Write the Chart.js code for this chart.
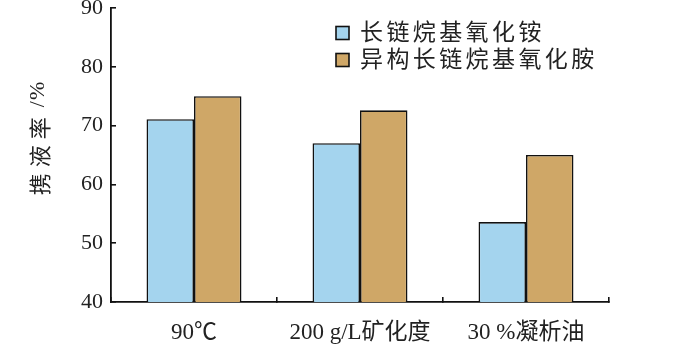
<!DOCTYPE html>
<html>
<head>
<meta charset="utf-8">
<script src="https://cdn.jsdelivr.net/npm/chart.js@4"></script>
<style>
html,body{margin:0;padding:0;background:#fff;}
#wrap{width:700px;height:358px;position:relative;}
</style>
</head>
<body>
<div id="wrap"><canvas id="c" width="700" height="358"></canvas></div>
<script>
const categories = ["90℃", "200 g/L矿化度", "30 %凝析油"];
const seriesNames = ["长链烷基氧化铵", "异构长链烷基氧化胺"];
const seriesA = [71.1, 67.0, 53.6];
const seriesB = [75.0, 72.6, 65.0];
const yTicks = [40, 50, 60, 70, 80, 90];
const yTitleMain = "携液率";
const yTitleUnit = "/%";
const colors = ["#A4D4EE", "#CFA767"];

const serif = "'Liberation Serif', 'Noto Sans CJK SC', serif";
const cjk = "'Noto Sans CJK SC', sans-serif";

const overlay = {
  id: 'overlay',
  afterDraw(chart) {
    const ctx = chart.ctx;
    ctx.save();
    // y title (rotated)
    ctx.fillStyle = '#222';
    ctx.translate(40, 138);
    ctx.rotate(-Math.PI / 2);
    ctx.textBaseline = 'middle';
    ctx.textAlign = 'left';
    ctx.font = "22px " + cjk;
    ctx.letterSpacing = "6px";
    const w1 = ctx.measureText(yTitleMain).width;
    ctx.font = "22px " + serif;
    ctx.letterSpacing = "1px";
    const w2 = ctx.measureText(yTitleUnit).width;
    const gap = 4;
    const total = w1 + gap + w2;
    ctx.font = "22px " + cjk;
    ctx.letterSpacing = "6px";
    ctx.fillText(yTitleMain, -total / 2, 0);
    ctx.font = "22px " + serif;
    ctx.letterSpacing = "1px";
    ctx.fillText(yTitleUnit, -total / 2 + w1 + gap, -2);
    ctx.restore();

    // legend
    ctx.save();
    const rows = [33, 60];
    seriesNames.forEach((name, i) => {
      ctx.fillStyle = colors[i];
      ctx.strokeStyle = '#111';
      ctx.lineWidth = 1.6;
      ctx.fillRect(336, rows[i] - 6.5, 13, 13);
      ctx.strokeRect(336, rows[i] - 6.5, 13, 13);
      ctx.fillStyle = '#222';
      ctx.font = "23px " + cjk;
      ctx.letterSpacing = "3.4px";
      ctx.textAlign = 'left';
      ctx.textBaseline = 'middle';
      ctx.fillText(name, 360, rows[i] - 2);
    });
    ctx.restore();
  }
};

new Chart(document.getElementById('c'), {
  type: 'bar',
  data: {
    labels: categories,
    datasets: [
      { label: seriesNames[0], data: seriesA, backgroundColor: colors[0], borderColor: '#111', borderWidth: 1.6, borderSkipped: 'bottom' },
      { label: seriesNames[1], data: seriesB, backgroundColor: colors[1], borderColor: '#111', borderWidth: 1.6, borderSkipped: 'bottom' }
    ]
  },
  options: {
    responsive: false,
    animation: false,
    devicePixelRatio: 1,
    layout: { padding: { left: 0, right: 91, top: 8, bottom: 0 } },
    plugins: { legend: { display: false }, tooltip: { enabled: false } },
    datasets: { bar: { categoryPercentage: 0.572, barPercentage: 1.0 } },
    scales: {
      x: {
        offset: true,
        grid: { display: true, drawOnChartArea: false, drawTicks: true, tickLength: -5, color: '#111', lineWidth: 1.6, offset: true },
        border: { display: true, color: '#111', width: 1.8 },
        ticks: { color: '#222', font: { family: serif, size: 23 }, padding: 22, maxRotation: 0, autoSkip: false },
        afterFit(scale) { scale.height = 56; scale.paddingLeft = 0; scale.paddingRight = 0; }
      },
      y: {
        min: 40, max: 90,
        afterBuildTicks(scale) { scale.ticks = yTicks.map(v => ({ value: v })); },
        grid: { display: true, drawOnChartArea: false, drawTicks: true, tickLength: -5, color: '#111', lineWidth: 1.6 },
        border: { display: true, color: '#111', width: 1.8 },
        ticks: { color: '#222', font: { family: serif, size: 22 }, padding: 13 },
        afterFit(scale) { scale.width = 111; scale.paddingTop = 0; scale.paddingBottom = 0; }
      }
    }
  },
  plugins: [overlay]
});
</script>
</body>
</html>
